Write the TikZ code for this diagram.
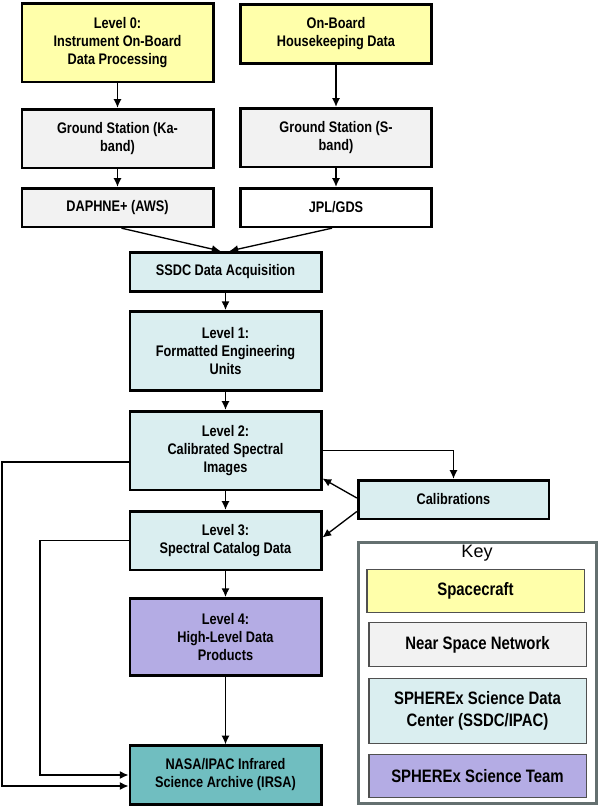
\documentclass[tikz,border=0pt]{standalone}
\usepackage{fontspec}
\setmainfont{Liberation Sans}
\newfontfamily\narrowsans[FakeStretch=0.83]{Liberation Sans}
\usepackage{tikz}
\usetikzlibrary{arrows.meta}
\usetikzlibrary{calc}
\usetikzlibrary{positioning}
\usepackage{xcolor}

\definecolor{craftyellow}{RGB}{255,255,170}
\definecolor{nsngray}{RGB}{242,242,242}
\definecolor{ssdccyan}{RGB}{218,238,240}
\definecolor{teampurple}{RGB}{180,172,228}
\definecolor{irsateal}{RGB}{112,190,192}
\definecolor{keyframegray}{RGB}{100,112,112}
\definecolor{keyitemgray}{RGB}{80,80,80}

\newcommand{\boxfnt}{\narrowsans\bfseries\fontsize{11.5}{13.5}\selectfont}
\newcommand{\keyfnt}{\narrowsans\bfseries\fontsize{13.5}{16.3}\selectfont}

\tikzset{
  box/.style={draw, line width=2pt, align=center, inner sep=0pt,
    minimum width=143.5pt, font=\boxfnt},
  keyitem/.style={draw=keyitemgray, line width=1pt, align=center, inner sep=0pt,
    minimum width=163pt, font=\keyfnt},
  arr/.style={-{Latex[length=6.5pt,width=6pt]}, line width=1pt}
}

\begin{document}
\begin{tikzpicture}[x=0.75pt, y=-0.75pt]
    \useasboundingbox (0,0) rectangle (600,808);
    % spacecraft and ground network
    \node[box, fill=craftyellow, minimum height=59pt] (lvzero) at (117.5,42.5)
        {Level 0:\\Instrument On-Board\\Data Processing};
    \node[box, fill=craftyellow, minimum height=44.5pt] (hk) at (336,34)
        {On-Board\\Housekeeping Data};
    \node[box, fill=nsngray, minimum height=44pt] (gska) at (117.5,138.5)
        {Ground Station (Ka-\\band)};
    \node[box, fill=nsngray, minimum height=44pt] (gss) at (336,137.5)
        {Ground Station (S-\\band)};
    \node[box, fill=nsngray, minimum height=29pt] (daphne) at (117.5,207.5)
        {DAPHNE+ (AWS)};
    \node[box, fill=white, minimum height=29pt] (jpl) at (336,207.5)
        {JPL/GDS};
    % science data center
    \node[box, fill=ssdccyan, minimum height=29.5pt] (acq) at (225.5,272)
        {SSDC Data Acquisition};
    \node[box, fill=ssdccyan, minimum height=59.5pt] (lvone) at (225.5,351)
        {Level 1:\\Formatted Engineering\\Units};
    \node[box, fill=ssdccyan, minimum height=59pt] (lvtwo) at (225.5,450.5)
        {Level 2:\\Calibrated Spectral\\Images};
    \node[box, fill=ssdccyan, minimum height=44pt] (lvthree) at (225.5,540.5)
        {Level 3:\\Spectral Catalog Data};
    \node[box, fill=teampurple, minimum height=58pt] (lvfour) at (225.5,637)
        {Level 4:\\High-Level Data\\Products};
    \node[box, fill=irsateal, minimum height=44pt] (irsa) at (225.5,775)
        {NASA/IPAC Infrared\\Science Archive (IRSA)};
    \node[box, fill=ssdccyan, minimum height=29pt, minimum width=143pt] (calib) at (453.5,499.5)
        {Calibrations};

    % key
    \node[draw=keyframegray, line width=2pt, minimum width=178.5pt, minimum height=196pt]
        (key) at (477.5,673) {};
    \node[font=\fontsize{13.5}{16}\selectfont] (keytitle) at (477,553.5) {Key};
    \node[keyitem, fill=craftyellow, minimum height=32pt] (keycraft) at (475.5,591) {Spacecraft};
    \node[keyitem, fill=nsngray, minimum height=33pt] (keynsn) at (477.5,644.5) {Near Space Network};
    \node[keyitem, fill=ssdccyan, minimum height=48.5pt] (keyssdc) at (477.5,711)
        {SPHEREx Science Data\\Center (SSDC/IPAC)};
    \node[keyitem, fill=teampurple, minimum height=32pt] (keyteam) at (477.5,776)
        {SPHEREx Science Team};

    \begin{scope}
    \draw[arr] (lvzero) -- (gska);
    \draw[arr] (gska) -- (daphne);
    \draw[arr] (hk) -- (gss);
    \draw[arr] (gss) -- (jpl);
    \draw[arr] ($(daphne.south)+(4,0)$) -- ($(acq.north)+(-5,0)$);
    \draw[arr] ($(jpl.south)+(-4,0)$) -- ($(acq.north)+(4,0)$);
    \draw[arr] (acq) -- (lvone);
    \draw[arr] (lvone) -- (lvtwo);
    \draw[arr] (lvtwo) -- (lvthree);
    \draw[arr] (lvthree) -- (lvfour);
    \draw[arr] (lvfour) -- (irsa);
    \draw[arr] (lvtwo.east) -| (calib.north);
    \draw[arr] ($(calib.west)+(0,-1.5)$) -- ($(lvtwo.east)+(0,28)$);
    \draw[arr] ($(calib.west)+(0,12)$) -- ($(lvthree.east)+(0,-3)$);
    \draw[arr] ($(lvtwo.west)+(0,11.5)$) -- ++(-126.5,0) |- ($(irsa.west)+(0,11)$);
    \draw[arr] (lvthree.west) -- ++(-88.5,0) |- (irsa.west);
    \end{scope}
\end{tikzpicture}
\end{document}
